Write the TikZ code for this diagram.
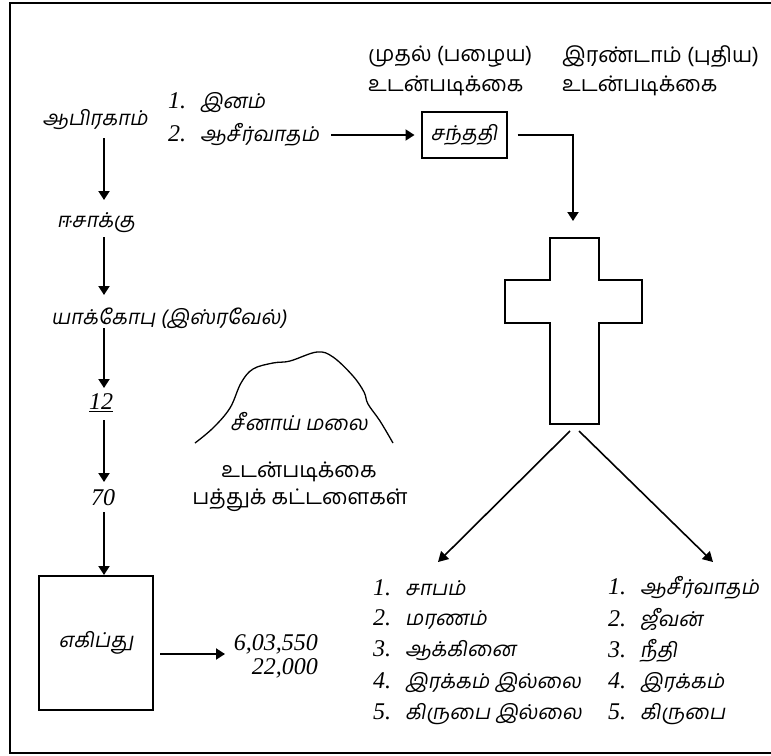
\documentclass[tikz,border=0pt]{standalone}
\usepackage{fontspec}
\newfontfamily\ta[Script=Tamil]{Hind Madurai}
\newfontfamily\tai[Script=Tamil,FakeSlant=0.18]{Hind Madurai}
\newfontfamily\numf{Liberation Serif}
\usetikzlibrary{arrows.meta}
\newcommand{\nmb}[1]{{\fontsize{24}{26}\numf\itshape #1}}
\begin{document}
\begin{tikzpicture}[x=1pt,y=-1pt,
  arr/.style={line width=2pt,-{Triangle[width=11pt,length=9pt]}},
  darr/.style={line width=1.6pt,-{Triangle[width=11pt,length=10pt]}},
  tl/.style={inner sep=0pt,font=\fontsize{20.5}{24}\tai},
  tu/.style={inner sep=0pt,font=\fontsize{21.5}{24}\ta},
  nm/.style={inner sep=0pt,font=\fontsize{24}{26}\numf\itshape},
  boxn/.style={draw,line width=2pt,inner sep=0pt,font=\fontsize{20.5}{24}\tai}]
\useasboundingbox (0,0) rectangle (771,755);
\draw[line width=2pt] (775,3) -- (10,3) -- (10,753) -- (775,753);
% left column
\coordinate (col) at (104,0);
\node[tl] (abr) at (95,120) {ஆபிரகாம்};
\node[tl] (isaac) at (96,223) {ஈசாக்கு};
\node[tl] (jacob) at (169,318) {யாக்கோபு (இஸ்ரவேல்)};
\node[nm] (n12) at (101,403) {\underline{12}};
\node[nm] (n70) at (103,498) {70};
\node[boxn,minimum width=114pt,minimum height=134pt] (egypt) at (96,643) {எகிப்து};
\draw[arr,shorten <=18pt,shorten >=23pt] (abr.center -| col) -- (isaac.center -| col);
\draw[arr,shorten <=14pt,shorten >=23pt] (isaac.center -| col) -- (jacob.center -| col);
\draw[arr,shorten <=10pt,shorten >=15pt] (jacob.center -| col) -- (n12.center -| col);
\draw[arr,shorten <=17pt,shorten >=16pt] (n12.center -| col) -- (n70.center -| col);
\draw[arr,shorten <=14pt] (n70.center -| col) -- (egypt.north -| col);
% numbers
\node[nm,anchor=east] (pop1) at (318,644) {6,03,550};
\node[nm,anchor=east] (pop2) at (318,668) {22,000};
\coordinate (popin) at (229,654);
\draw[arr,shorten <=6pt,shorten >=4pt] (egypt.east |- popin) -- (popin);
% top list
\node[tl,anchor=west] (i1) at (168,103) {\nmb{1.}\hspace{14pt}இனம்};
\node[tl,anchor=west] (i2) at (168,135) {\nmb{2.}\hspace{14pt}ஆசீர்வாதம்};
\node[boxn,minimum width=85pt,minimum height=46pt] (santh) at (464,135) {சந்ததி};
\draw[arr,shorten <=12pt,shorten >=6pt] (i2.east) -- (santh.west |- i2.east);
% covenant labels
\node[tu,anchor=west] (old1) at (368,57) {முதல் (பழைய)};
\node[tu,anchor=west] (old2) at (368,86) {உடன்படிக்கை};
\node[tu,anchor=west] (new1) at (562,57) {இரண்டாம் (புதிய)};
\node[tu,anchor=west] (new2) at (562,86) {உடன்படிக்கை};
% cross
\draw[line width=2pt,line join=miter] (550,238) -- (599,238) -- (599,280) -- (642,280) -- (642,323) -- (599,323) -- (599,424) -- (550,424) -- (550,323) -- (505,323) -- (505,280) -- (550,280) -- cycle;
\coordinate (crosstop) at (573,238);
\coordinate (crossbotL) at (570,431);
\coordinate (crossbotR) at (579,431);
\draw[arr,shorten <=10pt,shorten >=17pt] (santh.east) -| (crosstop);
% mountain
\draw[line width=1.3pt] plot[smooth,tension=0.6] coordinates {(195,443) (213,428) (230,408) (241,383) (253,369) (273,363) (290,361) (317,352) (333,357) (353,376) (364,392) (368,404) (380,421) (393,443)};
\node[tl] (sinai) at (299,422) {சீனாய் மலை};
\node[tu] (ten1) at (299,472) {உடன்படிக்கை};
\node[tu] (ten2) at (300,500) {பத்துக் கட்டளைகள்};
% bottom lists
\coordinate (tipL) at (438,562);
\coordinate (tipR) at (713,562);
\draw[darr] (crossbotL) -- (tipL);
\draw[darr] (crossbotR) -- (tipR);
\foreach \i/\t [count=\k from 0] in {1/சாபம், 2/மரணம், 3/ஆக்கினை, 4/இரக்கம் இல்லை, 5/கிருபை இல்லை}
  \node[tl,anchor=west] (L\i) at (373,588+31.5*\k) {\nmb{\i.}\hspace{14pt}\t};
\foreach \i/\t [count=\k from 0] in {1/ஆசீர்வாதம், 2/ஜீவன், 3/நீதி, 4/இரக்கம், 5/கிருபை}
  \node[tl,anchor=west] (R\i) at (608,588+31.5*\k) {\nmb{\i.}\hspace{14pt}\t};
\end{tikzpicture}
\end{document}
